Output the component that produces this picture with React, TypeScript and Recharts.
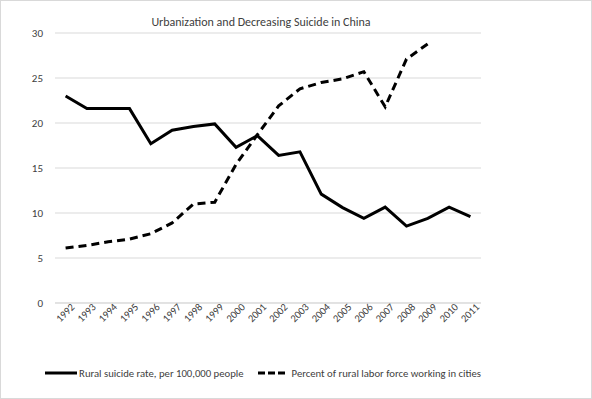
import React from "react";
import { LineChart, Line, XAxis, YAxis, CartesianGrid, Legend } from "recharts";

const years = [
  "1992", "1993", "1994", "1995", "1996", "1997", "1998", "1999", "2000", "2001",
  "2002", "2003", "2004", "2005", "2006", "2007", "2008", "2009", "2010", "2011",
];
const suicideRate = [
  23.0, 21.6, 21.6, 21.6, 17.7, 19.2, 19.6, 19.9, 17.3, 18.6,
  16.4, 16.8, 12.1, 10.6, 9.4, 10.65, 8.55, 9.4, 10.65, 9.6,
];
const laborInCities: (number | null)[] = [
  6.1, 6.4, 6.8, 7.1, 7.7, 8.9, 11.0, 11.2, 15.4, 18.7,
  21.9, 23.8, 24.5, 24.9, 25.7, 21.8, 27.1, 28.8, null, null,
];
const yTicks = [0, 5, 10, 15, 20, 25, 30];

const data = years.map((year, i) => ({
  year,
  suicide: suicideRate[i],
  labor: laborInCities[i],
}));

const FONT = "Carlito, Lato, sans-serif";
const TEXT = "#404040";

const YearTick = (props: any) => {
  const { x, y, payload } = props;
  return (
    <g transform={`translate(${x + 7},${y + 2})`}>
      <text
        x={0}
        y={0}
        dy="0.35em"
        textAnchor="end"
        transform="rotate(-45)"
        fill={TEXT}
        fontSize={10.5}
        fontFamily={FONT}
      >
        {payload.value}
      </text>
    </g>
  );
};

const LegendBox = () => (
  <div
    style={{
      display: "flex",
      justifyContent: "center",
      alignItems: "center",
      height: 20,
      fontFamily: FONT,
      fontSize: 10.7,
      color: TEXT,
      whiteSpace: "nowrap",
      paddingRight: 66,
    }}
  >
    <svg width={34} height={6}>
      <line x1={0} y1={3} x2={32} y2={3} stroke="#000" strokeWidth={3} />
    </svg>
    <span style={{ marginRight: 14 }}>Rural suicide rate, per 100,000 people</span>
    <svg width={34} height={6}>
      <line x1={0} y1={3} x2={28} y2={3} stroke="#000" strokeWidth={3} strokeDasharray="7 3" />
    </svg>
    <span>Percent of rural labor force working in cities</span>
  </div>
);

export default function App() {
  return (
    <div
      style={{
        position: "absolute",
        top: 0,
        left: 0,
        width: 592,
        height: 399,
        background: "#fff",
        border: "1px solid #d9d9d9",
        boxSizing: "border-box",
      }}
    >
      <LineChart
        width={590}
        height={397}
        data={data}
        margin={{ top: 32, right: 110, left: 0, bottom: 15 }}
      >
        <text
          x={260}
          y={22}
          textAnchor="middle"
          dominantBaseline="middle"
          fontFamily={FONT}
          fontSize={12}
          fill={TEXT}
        >
          Urbanization and Decreasing Suicide in China
        </text>
        <CartesianGrid vertical={false} stroke="#d9d9d9" />
        <XAxis
          dataKey="year"
          interval={0}
          padding={{ left: 10.6, right: 10.6 }}
          tickLine={false}
          axisLine={{ stroke: "#d9d9d9" }}
          tickSize={0}
          tickMargin={0}
          height={60}
          tick={<YearTick />}
        />
        <YAxis
          width={54}
          domain={[0, 30]}
          ticks={yTicks}
          axisLine={false}
          tickLine={false}
          tickSize={0}
          tickMargin={12}
          tick={{ fill: TEXT, fontSize: 11, fontFamily: FONT }}
        />
        <Legend
          verticalAlign="bottom"
          wrapperStyle={{ left: 0, width: 590 }}
          content={<LegendBox />}
        />
        <Line
          type="linear"
          dataKey="suicide"
          stroke="#000"
          strokeWidth={3}
          dot={false}
          isAnimationActive={false}
        />
        <Line
          type="linear"
          dataKey="labor"
          stroke="#000"
          strokeWidth={3}
          strokeDasharray="8 5"
          dot={false}
          isAnimationActive={false}
        />
      </LineChart>
    </div>
  );
}
